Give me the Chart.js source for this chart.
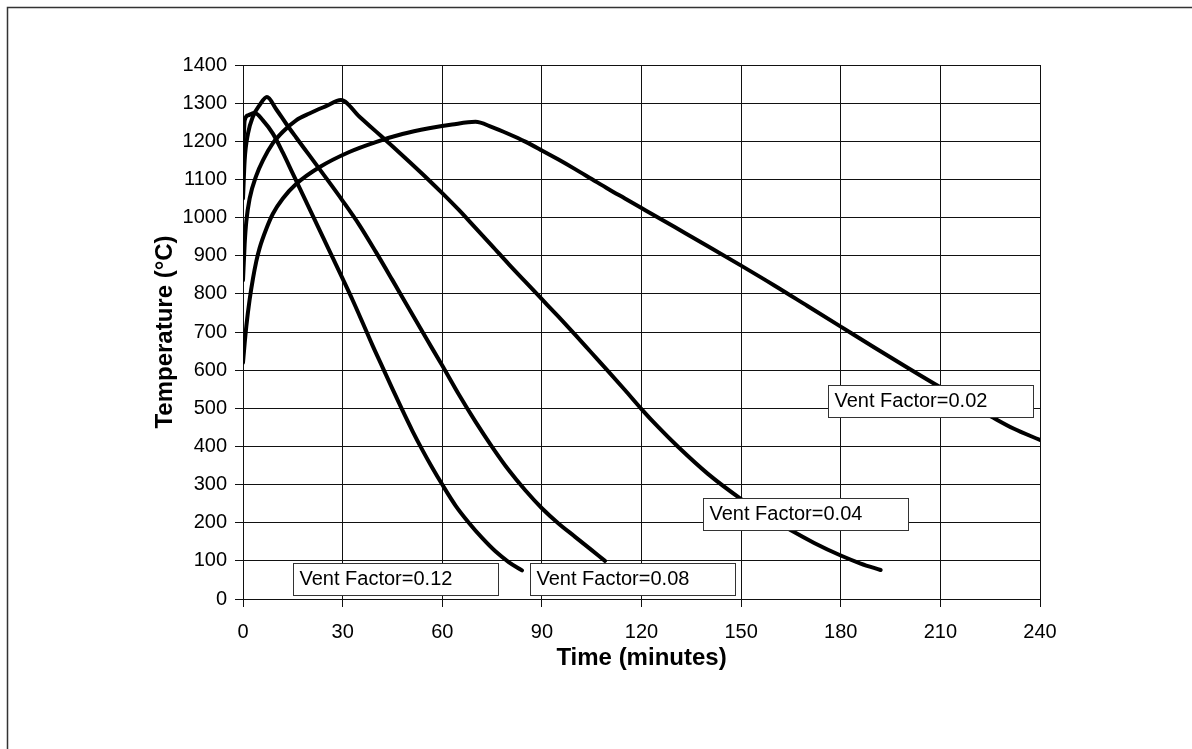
<!DOCTYPE html>
<html>
<head>
<meta charset="utf-8">
<script src="https://cdn.jsdelivr.net/npm/chart.js@4/dist/chart.umd.min.js"></script>
<style>
  body { margin: 0; background: #fff; }
  #wrap { width: 1192px; height: 749px; }
</style>
</head>
<body>
<div id="wrap"><canvas id="fireChart" width="1192" height="749"></canvas></div>
<script>
// time (minutes) / temperature (°C), one pair of arrays per curve
const time012 = [0, 0.5, 1.5, 3.5, 6, 9, 12, 15, 18, 21, 24, 27, 30, 33, 36, 39, 42, 45, 48, 51, 54, 57, 60, 64, 68, 72, 76, 80, 84];
const temp012 = [1150, 1255, 1268, 1274, 1255, 1220, 1170, 1115, 1060, 1005, 950, 895, 840, 784, 725, 665, 608, 551, 495, 441, 391, 344, 300, 245, 200, 160, 125, 97, 75];

const time008 = [0, 0.5, 1.5, 3, 5, 7.2, 10, 13, 16, 20, 25, 30, 35, 40, 45, 50, 55, 60, 65, 70, 75, 80, 85, 90, 95, 100, 105, 109];
const temp008 = [1050, 1150, 1220, 1265, 1295, 1316, 1284, 1246, 1210, 1163, 1104, 1044, 981, 910, 836, 761, 686, 612, 536, 465, 399, 338, 285, 238, 198, 163, 128, 100];

const time004 = [0, 0.5, 1, 2, 4, 6, 9, 12, 16, 20, 25, 29.5, 35, 40, 45, 50, 56, 60, 65, 70, 75, 80, 85, 90, 95, 100, 105, 110, 115, 120, 125, 131, 140, 150, 157, 165, 172, 180, 186, 192];
const temp004 = [836, 930, 990, 1050, 1110, 1150, 1195, 1225, 1255, 1273, 1292, 1308, 1265, 1226, 1187, 1147, 1098, 1064, 1020, 973, 926, 878, 832, 786, 740, 693, 645, 597, 548, 498, 451, 399, 328, 262, 222, 180, 147, 114, 93, 76];

const time002 = [0, 0.5, 1, 2, 3, 4, 5, 7, 9, 12, 16, 23, 32, 40, 48, 56, 63, 70, 75, 80, 85, 90, 95, 100, 105, 110, 115, 120, 130, 140, 150, 160, 170, 180, 190, 200, 210, 220, 226, 232, 240];
const temp002 = [620, 670, 715, 785, 840, 885, 920, 970, 1010, 1050, 1088, 1132, 1172, 1198, 1219, 1234, 1244, 1251, 1237, 1219, 1199, 1176, 1152, 1127, 1101, 1075, 1050, 1025, 975, 925, 874, 822, 768, 714, 660, 607, 555, 505, 475, 447, 417];

const xTicks = [0, 30, 60, 90, 120, 150, 180, 210, 240];
const yTicks = [0, 100, 200, 300, 400, 500, 600, 700, 800, 900, 1000, 1100, 1200, 1300, 1400];

// curve labels, anchored (top-left corner) in data units
const labelText = ["Vent Factor=0.12", "Vent Factor=0.08", "Vent Factor=0.04", "Vent Factor=0.02"];
const labelTime = [15.1, 86.4, 138.5, 176.2];
const labelTemp = [94, 94, 265, 561];

const FONT = "'Liberation Sans', Arial, Helvetica, sans-serif";

function pairs(xs, ys) {
  return xs.map((x, i) => ({ x: x, y: ys[i] }));
}

function curve(label, xs, ys) {
  return {
    label: label,
    data: pairs(xs, ys),
    borderColor: "#000",
    borderWidth: 4,
    pointRadius: 0,
    cubicInterpolationMode: "monotone",
    fill: false,
    borderJoinStyle: "round",
    borderCapStyle: "round",
  };
}

const pageFrame = {
  id: "pageFrame",
  beforeDraw(chart) {
    const ctx = chart.ctx;
    ctx.save();
    ctx.fillStyle = "#fff";
    ctx.fillRect(0, 0, chart.width, chart.height);
    ctx.strokeStyle = "#333";
    ctx.lineWidth = 1.5;
    ctx.beginPath();
    ctx.moveTo(7.5, chart.height);
    ctx.lineTo(7.5, 7.5);
    ctx.lineTo(chart.width, 7.5);
    ctx.stroke();
    ctx.restore();
  },
};

const curveLabels = {
  id: "curveLabels",
  afterDatasetsDraw(chart) {
    const ctx = chart.ctx;
    const xs = chart.scales.x;
    const ys = chart.scales.y;
    ctx.save();
    ctx.font = "20px " + FONT;
    ctx.textBaseline = "middle";
    ctx.textAlign = "left";
    labelText.forEach((txt, i) => {
      const px = Math.round(xs.getPixelForValue(labelTime[i])) + 0.5;
      const py = Math.round(ys.getPixelForValue(labelTemp[i])) + 0.5;
      ctx.fillStyle = "#fff";
      ctx.fillRect(px, py, 205, 32);
      ctx.strokeStyle = "#333";
      ctx.lineWidth = 1;
      ctx.strokeRect(px, py, 205, 32);
      ctx.fillStyle = "#000";
      ctx.fillText(txt, px + 6, py + 16);
    });
    ctx.restore();
  },
};

new Chart(document.getElementById("fireChart"), {
  type: "line",
  data: {
    datasets: [
      curve("Vent Factor=0.12", time012, temp012),
      curve("Vent Factor=0.08", time008, temp008),
      curve("Vent Factor=0.04", time004, temp004),
      curve("Vent Factor=0.02", time002, temp002),
    ],
  },
  options: {
    responsive: false,
    animation: false,
    devicePixelRatio: 1,
    layout: { padding: { left: 0, right: 152, top: 65, bottom: 0 } },
    plugins: {
      legend: { display: false },
      tooltip: { enabled: false },
    },
    scales: {
      x: {
        type: "linear",
        min: 0,
        max: 240,
        afterFit(scale) { scale.height = 150; },
        afterBuildTicks(scale) { scale.ticks = xTicks.map((v) => ({ value: v })); },
        grid: { color: "#111", lineWidth: 1, tickLength: 8 },
        border: { color: "#111", width: 1 },
        ticks: {
          color: "#000",
          font: { family: FONT, size: 20 },
          padding: 13,
          maxRotation: 0,
          callback: (v) => String(v),
        },
        title: {
          display: true,
          text: "Time (minutes)",
          color: "#000",
          font: { family: FONT, size: 24, weight: "bold" },
          padding: { top: 0, bottom: 76 },
        },
      },
      y: {
        type: "linear",
        min: 0,
        max: 1400,
        afterFit(scale) { scale.width = 243; },
        afterBuildTicks(scale) { scale.ticks = yTicks.map((v) => ({ value: v })); },
        grid: { color: "#111", lineWidth: 1, tickLength: 8 },
        border: { color: "#111", width: 1 },
        ticks: {
          color: "#000",
          font: { family: FONT, size: 20 },
          padding: 8,
          callback: (v) => String(v),
        },
        title: {
          display: true,
          text: "Temperature (°C)",
          color: "#000",
          font: { family: FONT, size: 24, weight: "bold" },
          padding: { top: 151, bottom: 0 },
        },
      },
    },
  },
  plugins: [pageFrame, curveLabels],
});
</script>
</body>
</html>
